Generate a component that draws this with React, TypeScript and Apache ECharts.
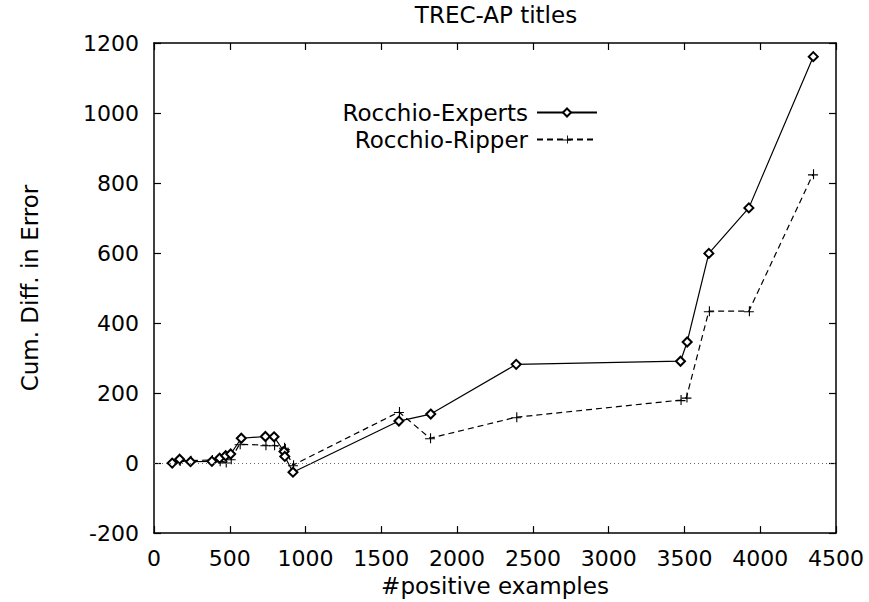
import React, { useEffect, useRef } from "react";
import * as echarts from "echarts";

const xExperts = [120, 169, 241, 382, 433, 473, 506, 576, 735, 792, 858, 863, 917, 1616, 1826, 2390, 3474, 3518, 3661, 3925, 4350];
const yExperts = [0, 11, 4, 5, 14, 21, 26, 71, 76, 75, 33, 19, -26, 120, 140, 282, 291, 346, 599, 729, 1161];
const xRipper = [120, 169, 241, 382, 433, 473, 506, 565, 735, 792, 858, 863, 917, 1616, 1821, 2390, 3474, 3513, 3661, 3925, 4348];
const yRipper = [0, 6, 7, 9, 5, 2, 11, 54, 51, 51, 44, 40, -6, 146, 71, 131, 180, 187, 434, 434, 825];

const FONT = "DejaVu Sans";

export default function App() {
  const ref = useRef<HTMLDivElement>(null);
  useEffect(() => {
    if (!ref.current) return;
    const chart = echarts.init(ref.current, undefined, { renderer: "svg" });
    const expertsData = xExperts.map((x, i) => [x, yExperts[i]]);
    const ripperData = xRipper.map((x, i) => [x, yRipper[i]]);
    const plus = "path://M0,4.5L9,4.5L9,5.5L0,5.5ZM4.5,0L5.5,0L5.5,9L4.5,9Z";
    const frameAxis = {
      axisLine: { show: true, onZero: false, lineStyle: { color: "#000", width: 1.5 } },
      axisTick: { show: true, inside: true, length: 7, lineStyle: { color: "#000", width: 1.2 } },
      splitLine: { show: false },
    };
    const fmt = (v: number) => String(v);
    chart.setOption({
      animation: false,
      backgroundColor: "#fff",
      title: {
        text: "TREC-AP titles",
        left: 496,
        textAlign: "center",
        top: 3,
        padding: 0,
        textStyle: { fontFamily: FONT, fontSize: 23, fontWeight: "normal", color: "#000" },
      },
      legend: [
        {
          data: ["Rocchio-Experts"],
          orient: "vertical",
          align: "right",
          right: 271,
          top: 101,
          padding: 0,
          itemWidth: 60,
          itemHeight: 10,
          textStyle: { fontFamily: FONT, fontSize: 23, color: "#000", padding: [0, 4, 0, 0] },
        },
        {
          data: ["Rocchio-Ripper"],
          orient: "vertical",
          align: "right",
          right: 271,
          top: 128,
          padding: 0,
          itemWidth: 60,
          itemHeight: 10,
          textStyle: { fontFamily: FONT, fontSize: 23, color: "#000", padding: [0, 4, 0, 0] },
        },
      ],
      grid: { left: 154, right: 33, top: 43, bottom: 67, containLabel: false },
      xAxis: [
        {
          type: "value",
          min: 0,
          max: 4500,
          interval: 500,
          name: "#positive examples",
          nameLocation: "middle",
          nameGap: 37,
          nameTextStyle: { fontFamily: FONT, fontSize: 23, color: "#000" },
          axisLabel: { fontFamily: FONT, fontSize: 22, color: "#000", margin: 14, formatter: fmt },
          ...frameAxis,
        },
        {
          type: "value",
          position: "top",
          min: 0,
          max: 4500,
          interval: 500,
          axisLabel: { show: false },
          ...frameAxis,
        },
      ],
      yAxis: [
        {
          type: "value",
          min: -200,
          max: 1200,
          interval: 200,
          name: "Cum. Diff. in Error",
          nameLocation: "middle",
          nameGap: 113,
          nameTextStyle: { fontFamily: FONT, fontSize: 23, color: "#000" },
          axisLabel: { fontFamily: FONT, fontSize: 22, color: "#000", margin: 15, formatter: fmt },
          ...frameAxis,
        },
        {
          type: "value",
          position: "right",
          min: -200,
          max: 1200,
          interval: 200,
          axisLabel: { show: false },
          ...frameAxis,
        },
      ],
      series: [
        {
          name: "Rocchio-Experts",
          type: "line",
          data: expertsData,
          symbol: "emptyDiamond",
          symbolSize: 9,
          showAllSymbol: true,
          itemStyle: { color: "#000", borderColor: "#000", borderWidth: 1 },
          lineStyle: { color: "#000", width: 1.2, type: "solid" },
          markLine: {
            silent: true,
            symbol: "none",
            label: { show: false },
            lineStyle: { color: "#666", type: [1, 3], width: 1 },
            data: [{ yAxis: 0 }],
          },
          z: 3,
        },
        {
          name: "Rocchio-Ripper",
          type: "line",
          data: ripperData,
          symbol: plus,
          symbolSize: 10,
          showAllSymbol: true,
          itemStyle: { color: "#000" },
          lineStyle: { color: "#000", width: 1.2, type: [6, 4] },
          z: 2,
        },
      ],
    });
    return () => chart.dispose();
  }, []);
  return (
    <div
      ref={ref}
      style={{ position: "fixed", left: 0, top: 0, width: 869, height: 602, background: "#fff" }}
    />
  );
}
